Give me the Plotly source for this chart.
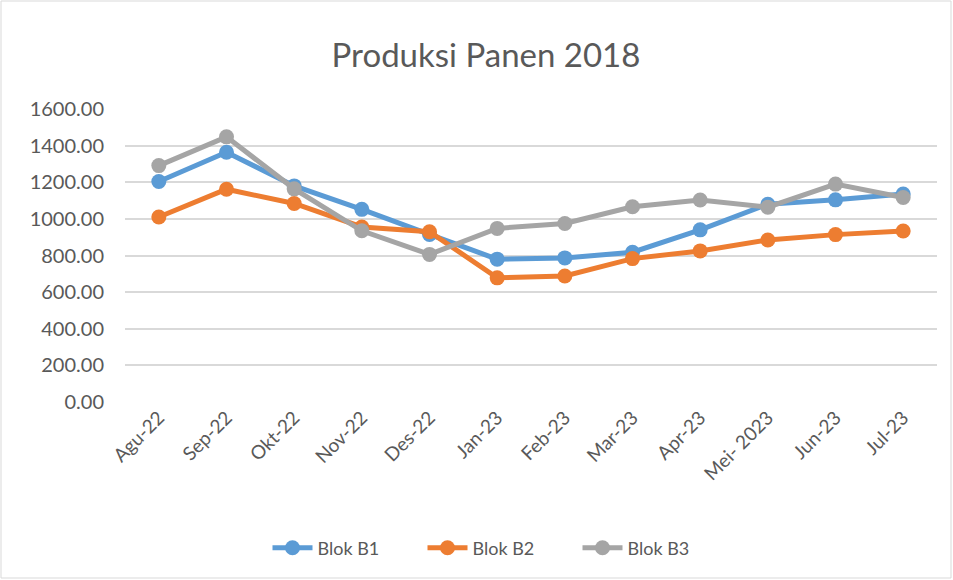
import plotly.graph_objects as go

categories = ["Agu-22", "Sep-22", "Okt-22", "Nov-22", "Des-22", "Jan-23", "Feb-23",
              "Mar-23", "Apr-23", "Mei- 2023", "Jun-23", "Jul-23"]
blok_b1 = [1204, 1364, 1180, 1052, 915, 780, 787, 818, 940, 1080, 1104, 1136]
blok_b2 = [1010, 1162, 1084, 956, 930, 678, 688, 783, 825, 885, 914, 934]
blok_b3 = [1291, 1448, 1164, 935, 806, 948, 975, 1066, 1103, 1064, 1190, 1117]
y_ticks = [0, 200, 400, 600, 800, 1000, 1200, 1400, 1600]

series = [("Blok B1", blok_b1, "#5B9BD5"),
          ("Blok B2", blok_b2, "#ED7D31"),
          ("Blok B3", blok_b3, "#A5A5A5")]

fig = go.Figure()
for name, vals, col in series:
    fig.add_trace(go.Scatter(
        x=categories, y=vals, name=name, mode="lines+markers",
        line=dict(color=col, width=5),
        marker=dict(color=col, size=15),
    ))

W, H = 953, 580
ml, mr, mt, mb = 125, 16, 109, 178
pw, ph = W - ml - mr, H - mt - mb

fig.update_layout(
    width=W, height=H,
    margin=dict(l=ml, r=mr, t=mt, b=mb),
    paper_bgcolor="white", plot_bgcolor="white",
    font=dict(family="Lato, Calibri, sans-serif", color="#595959", size=20),
    title=dict(text="Produksi Panen 2018", x=486 / W, xanchor="center", xref="container",
               y=1 - 55 / H, yanchor="middle", yref="container",
               font=dict(size=33, color="#595959")),
    xaxis=dict(type="category", range=[-0.5, 11.5], tickangle=-45,
               showgrid=False, showline=False, ticks="", zeroline=False,
               tickfont=dict(size=19, color="#595959")),
    yaxis=dict(range=[0, 1600], tickvals=y_ticks, tickformat=".2f",
               showgrid=True, gridcolor="#D9D9D9", gridwidth=1.5,
               zeroline=False, showline=False, ticks="", ticklabelstandoff=20,
               tickfont=dict(size=20, color="#595959")),
    legend=dict(orientation="h", x=500 / W, xanchor="center", xref="container",
                y=1 - 548 / H, yanchor="middle", yref="container",
                font=dict(size=18, color="#595959"), itemwidth=40,
                entrywidth=100),
    showlegend=True,
    shapes=[dict(type="rect", xref="paper", yref="paper",
                 x0=(1 - ml) / pw, x1=(W - 2 - ml) / pw,
                 y0=(mt + ph - (H - 2)) / ph, y1=(mt + ph - 1) / ph,
                 line=dict(color="#D9D9D9", width=1), fillcolor="rgba(0,0,0,0)",
                 layer="below")],
)

fig.write_html("out.html", config={"displayModeBar": False},
               post_script="document.body.style.margin='0';document.body.style.overflow='hidden';")
